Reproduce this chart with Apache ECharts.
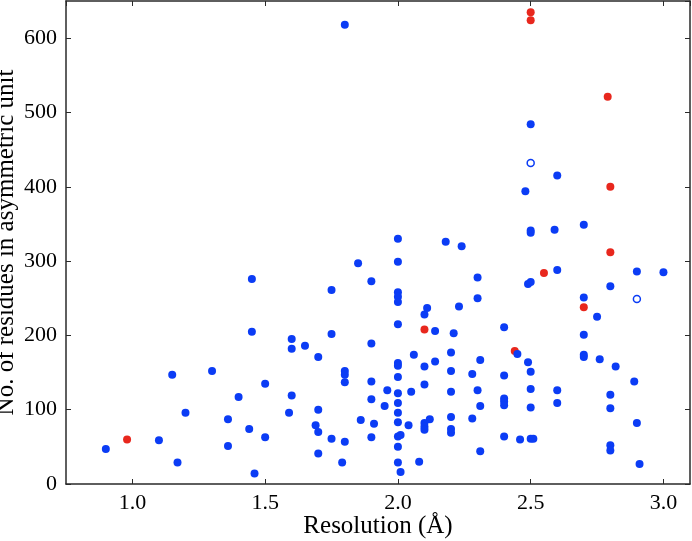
<!DOCTYPE html>
<html>
<head>
<meta charset="utf-8">
<script src="https://cdn.jsdelivr.net/npm/echarts@6/dist/echarts.min.js"></script>
<style>html,body{margin:0;padding:0;background:#fff}#c{width:692px;height:541px}</style>
</head>
<body>
<div id="c"></div>
<script>
const blueRes = [0.9,1.1,1.15,1.17,1.2,1.3,1.36,1.36,1.4,1.44,1.45,1.45,1.46,1.5,1.5,1.59,1.6,1.6,1.6,1.65,1.69,1.7,1.7,1.7,1.7,1.75,1.75,1.75,1.79,1.8,1.8,1.8,1.8,1.8,1.85,1.86,1.9,1.9,1.9,1.9,1.9,1.91,1.95,1.96,
2.0,2.0,2.0,2.0,2.0,2.0,2.0,2.0,2.0,2.0,2.0,2.0,2.0,2.0,2.01,2.0,2.0,2.01,2.04,2.05,2.06,2.08,2.1,2.11,2.1,2.1,2.1,2.1,2.1,2.12,2.14,2.14,2.18,2.2,2.2,2.2,2.2,2.2,2.2,2.21,2.23,2.24,2.28,2.28,2.3,2.3,2.3,2.31,2.31,2.31,
2.4,2.4,2.4,2.4,2.4,2.4,2.45,2.46,2.48,2.49,2.49,2.5,2.5,2.5,2.5,2.5,2.5,2.5,2.5,2.51,2.59,2.6,2.6,2.6,2.6,2.7,2.7,2.7,2.7,2.7,2.75,2.76,2.8,2.8,2.8,2.8,2.8,2.82,2.89,2.9,2.9,2.91,3.0];
const blueResidues = [47,59,147,29,96,152,87,51,117,74,276,205,14,135,63,96,195,182,119,186,79,171,100,70,41,261,202,61,29,618,152,147,137,57,297,86,273,189,138,114,63,81,105,126,
330,299,258,252,245,215,163,159,144,122,109,96,83,64,66,50,29,16,79,124,174,30,228,237,158,134,82,77,73,87,206,165,326,177,152,124,90,74,69,203,239,320,148,88,278,250,126,167,105,44,
211,146,115,111,106,64,175,60,394,269,164,484,341,338,272,151,128,103,61,61,342,415,288,126,109,349,251,201,174,171,225,168,266,120,102,52,45,158,138,286,82,27,285];
const redRes = [0.98,2.1,2.44,2.5,2.5,2.55,2.7,2.79,2.8,2.8];
const redResidues = [60,208,179,635,624,284,238,521,400,312];
const openRes = [2.5,2.9];
const openResidues = [432,249];

const BLUE = '#0b3cf5', RED = '#e8271d';
const FONT = 'Liberation Serif';
const zip = (a,b) => a.map((v,i)=>[v,b[i]]);
const axisLineStyle = {color:'#2a2a2a', width:1.5};
const tickStyle = {show:true, inside:true, length:5, lineStyle:{color:'#2a2a2a', width:1}};

const chart = echarts.init(document.getElementById('c'), null, {renderer:'canvas'});
chart.setOption({
  animation:false,
  backgroundColor:'#fff',
  grid:{left:66, right:2, top:1, bottom:57, containLabel:false, outerBoundsMode:'none'},
  xAxis:[{
    type:'value', min:0.75, max:3.1, splitNumber:5, position:'bottom',
    name:'Resolution (Å)', nameLocation:'middle', nameGap:30, nameMoveOverlap:false,
    nameTextStyle:{fontFamily:FONT, fontSize:25, color:'#000'},
    axisLine:{show:true, onZero:false, lineStyle:axisLineStyle},
    axisTick:tickStyle,
    splitLine:{show:false},
    axisLabel:{fontFamily:FONT, fontSize:22, color:'#000', margin:8, showMinLabel:false, showMaxLabel:false,
      formatter:v => v.toFixed(1)}
  },{
    type:'value', min:0.75, max:3.1, splitNumber:5, position:'top',
    axisLine:{show:true, onZero:false, lineStyle:axisLineStyle},
    axisTick:tickStyle, axisLabel:{show:false}, splitLine:{show:false}
  }],
  yAxis:[{
    type:'value', min:0, max:650, interval:100, position:'left',
    name:'No. of residues in asymmetric unit', nameLocation:'middle', nameGap:47, nameMoveOverlap:false,
    nameTextStyle:{fontFamily:FONT, fontSize:25, color:'#000'},
    axisLine:{show:true, onZero:false, lineStyle:axisLineStyle},
    axisTick:tickStyle,
    splitLine:{show:false},
    axisLabel:{fontFamily:FONT, fontSize:22, color:'#000', margin:9, showMaxLabel:false}
  },{
    type:'value', min:0, max:650, interval:100, position:'right',
    axisLine:{show:true, onZero:false, lineStyle:axisLineStyle},
    axisTick:tickStyle, axisLabel:{show:false}, splitLine:{show:false}
  }],
  series:[
    {type:'scatter', data:zip(redRes, redResidues), symbolSize:8, itemStyle:{color:RED, opacity:1}},
    {type:'scatter', data:zip(blueRes, blueResidues), symbolSize:8, itemStyle:{color:BLUE, opacity:1}},
    {type:'scatter', data:zip(openRes, openResidues), symbolSize:7, itemStyle:{color:'#fff', borderColor:BLUE, borderWidth:1.5, opacity:1}}
  ]
});
</script>
</body>
</html>
